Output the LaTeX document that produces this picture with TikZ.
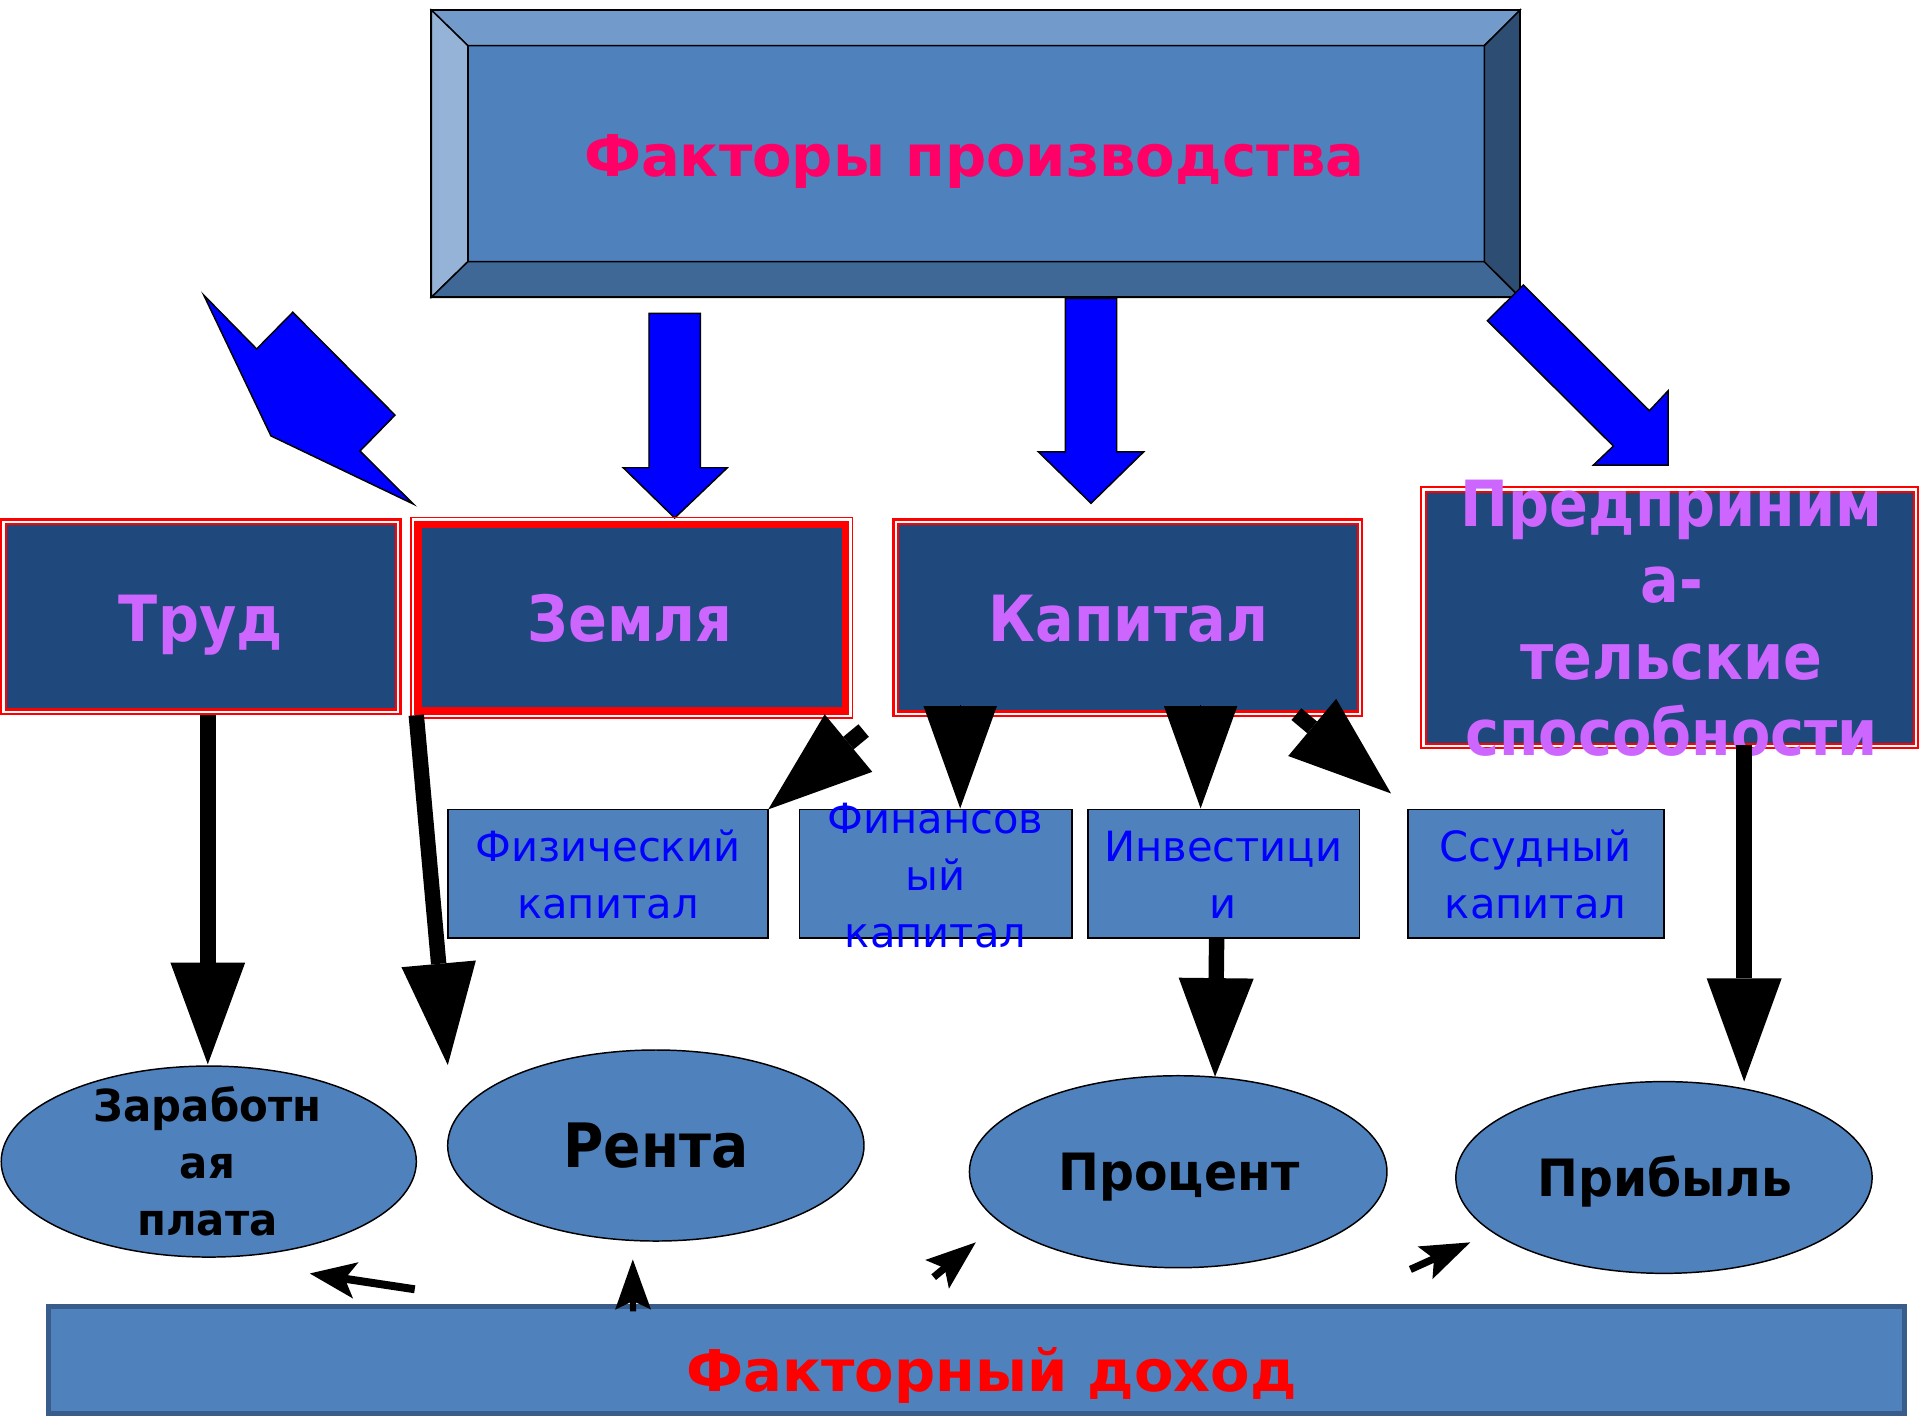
\documentclass[tikz,border=0pt]{standalone}
\usepackage{fontspec}
\setmainfont{DejaVu Sans}
\newfontfamily\narrowfont[FakeStretch=0.9]{DejaVu Sans}
\newfontfamily\midfont[FakeStretch=0.95]{DejaVu Sans}
\usetikzlibrary{arrows.meta,calc,shapes.geometric}
\definecolor{midblue}{HTML}{4F81BD}
\definecolor{navy}{HTML}{1F497D}
\definecolor{bevT}{HTML}{729ACA}
\definecolor{bevL}{HTML}{95B3D7}
\definecolor{bevB}{HTML}{3F6897}
\definecolor{bevR}{HTML}{2E4D72}
\definecolor{titlepink}{HTML}{FF0066}
\definecolor{lilac}{HTML}{CC66FF}
\definecolor{barborder}{HTML}{385D8A}
\tikzset{
  titlebox/.style={rectangle, fill=midblue, draw=black, line width=1.2pt, inner sep=0pt, outer sep=0pt},
  bevel/.style={draw=black, line width=1.2pt, line join=miter},
  factorbox/.style={rectangle, fill=navy, draw=red, double=white, double distance=1.8pt, line width=1.9pt, inner sep=0pt, outer sep=0pt},
  thickfactorbox/.style={rectangle, fill=navy, draw=red, line width=6.3pt, inner sep=0pt, outer sep=0pt},
  subbox/.style={rectangle, fill=midblue, draw=black, line width=1.3pt, inner sep=0pt, outer sep=0pt},
  incomeell/.style={ellipse, fill=midblue, draw=black, line width=1.2pt, inner sep=0pt, outer sep=0pt},
  barbox/.style={rectangle, fill=midblue, draw=barborder, line width=4pt, inner sep=0pt, outer sep=0pt},
  titletext/.style={text=titlepink, font=\bfseries\fontsize{47}{55}\selectfont, inner sep=0pt, anchor=base},
  factortext/.style={text=lilac, font=\narrowfont\bfseries\fontsize{52}{62.4}\selectfont, align=center, inner sep=0pt, anchor=base},
  subtext/.style={text=blue, font=\fontsize{34}{46.5}\selectfont, align=center, inner sep=0pt, anchor=base},
  incometext/.style={text=black, font=\midfont\bfseries\fontsize{42}{46.6}\selectfont, align=center, inner sep=0pt, anchor=base},
  bartext/.style={text=red, font=\bfseries\fontsize{47}{56}\selectfont, inner sep=0pt, anchor=base},
  bluearrow/.style={fill=blue, draw=black, line width=1.2pt, line join=miter},
  bigarrow/.style={draw=black, line width=12.6pt, -{Triangle[length=83pt,width=61pt,line width=0pt]}},
  headarrow/.style={draw=black, line width=1pt, -{Triangle[length=83.6pt,width=60pt,line width=0pt]}},
  smallarrow/.style={draw=black, line width=6.5pt, -{Stealth[length=40pt,width=30pt,inset=8pt,line width=0pt]}}
}
\begin{document}
\begin{tikzpicture}[x=1pt,y=-1pt]
\useasboundingbox (0,0) rectangle (1568,1158);
\fill[white] (0,0) rectangle (1568,1158);

% ---------- title box ----------
\node[titlebox, minimum width=830.1pt, minimum height=176.4pt] (fp) at (797.15,125.5) {};
\coordinate (fpo-nw) at ($(fp.north west)+(-29.8,-29.1)$);
\coordinate (fpo-se) at ($(fp.south east)+(29.2,29.1)$);
\coordinate (fpo-ne) at (fpo-se |- fpo-nw);
\coordinate (fpo-sw) at (fpo-nw |- fpo-se);
\filldraw[bevel, fill=bevT] (fpo-nw) -- (fpo-ne) -- (fp.north east) -- (fp.north west) -- cycle;
\filldraw[bevel, fill=bevL] (fpo-nw) -- (fp.north west) -- (fp.south west) -- (fpo-sw) -- cycle;
\filldraw[bevel, fill=bevB] (fpo-sw) -- (fp.south west) -- (fp.south east) -- (fpo-se) -- cycle;
\filldraw[bevel, fill=bevR] (fpo-ne) -- (fpo-se) -- (fp.south east) -- (fp.north east) -- cycle;
\draw[black, line width=1.6pt] (fpo-nw) rectangle (fpo-se);
\node[titletext] (fp-t) at (795.7,144.3) {Факторы производства};

% ---------- blue arrows ----------
\filldraw[bluearrow] (166.4,241) -- (209.6,285) -- (239.1,255) -- (322.6,339) -- (294,368.3) -- (337.5,411.6) -- (221.3,356) -- cycle;
\filldraw[bluearrow] (530,256) -- (572,256) -- (572,382) -- (594,382) -- (551,423) -- (509,382) -- (530,382) -- cycle;
\filldraw[bluearrow] (870,243.6) -- (912,243.6) -- (912,369) -- (934,369) -- (891,411) -- (848,369) -- (870,369) -- cycle;
\filldraw[bluearrow] (1244.1,232.8) -- (1347,335.4) -- (1362.3,319.1) -- (1362.3,379.8) -- (1301.3,379.8) -- (1317.6,364.3) -- (1214.7,261.9) -- cycle;

% ---------- factor boxes ----------
\node[factorbox, minimum width=322.4pt, minimum height=155.1pt] (trud) at (164,503.65) {};
\node[thickfactorbox, minimum width=349.1pt, minimum height=152.1pt] (zem) at (516,504.5) {};
\draw[red, line width=1.4pt] ($(zem.north west)+(-5.75,-5.75)$) rectangle ($(zem.south east)+(5.75,5.75)$);
\node[factorbox, minimum width=379pt, minimum height=156.9pt] (kap) at (921.1,504.55) {};
\node[factorbox, minimum width=402.2pt, minimum height=209.5pt] (pred) at (1363.6,504.45) {};

\node[factortext] (trud-t) at (164,524) {Труд};
\node[factortext] (zem-t) at (514.6,524) {Земля};
\node[factortext] (kap-t) at (921.5,524) {Капитал};
\node[factortext] (pred-t) at (1365.2,617.2) {Предприним\\а-\\тельские\\способности};

% ---------- capital sub-boxes ----------
\node[subbox, minimum width=261.4pt, minimum height=104.8pt] (fiz) at (496.7,713.4) {};
\node[subbox, minimum width=222.3pt, minimum height=104.8pt] (fin) at (764.15,713.4) {};
\node[subbox, minimum width=221.8pt, minimum height=104.8pt] (inv) at (999.3,713.4) {};
\node[subbox, minimum width=208.9pt, minimum height=104.8pt] (ssud) at (1254.25,713.4) {};
\node[subtext] (fiz-t) at (496.5,750) {Физический\\капитал};
\node[subtext] (fin-t) at (764,773.4) {Финансов\\ый\\капитал};
\node[subtext] (inv-t) at (999,750) {Инвестици\\и};
\node[subtext] (ssud-t) at (1254,750) {Ссудный\\капитал};

% ---------- income ellipses ----------
\node[incomeell, minimum width=339pt, minimum height=156pt] (zarp) at (170.5,948.6) {};
\node[incomeell, minimum width=340pt, minimum height=156pt] (renta) at (535.6,935.5) {};
\node[incomeell, minimum width=341pt, minimum height=156.8pt] (proc) at (962.2,956.9) {};
\node[incomeell, minimum width=340pt, minimum height=156.6pt] (prib) at (1358.9,961.6) {};
\node[incometext, font=\midfont\bfseries\fontsize{36}{46.6}\selectfont] (zarp-t) at (169.5,1009) {Заработн\\ая\\плата};
\node[incometext, font=\narrowfont\bfseries\fontsize{50}{60}\selectfont] (renta-t) at (535.6,953.8) {Рента};
\node[incometext] (proc-t) at (962.8,971.9) {Процент};
\node[incometext] (prib-t) at (1359.8,977.3) {Прибыль};

% ---------- factor income bar ----------
\node[barbox, minimum width=1515.7pt, minimum height=87pt] (fd) at (797.15,1110.5) {};
\node[bartext] (fd-t) at (809.8,1136.6) {Факторный доход};

% ---------- black arrows ----------
\draw[bigarrow] ($(trud.south -| zarp.north)+(-0.8,2.8)$) -- ($(zarp.north)+(-0.8,-1.4)$);
\coordinate (zemL) at ($(zem.south west)+(-1.5,3.5)$);
\coordinate (rentaTip) at ($(renta.north)+(-169.9,12.3)$);
\draw[bigarrow] (zemL) -- (rentaTip);
\coordinate (cTail) at (705.3,596.6);
\draw[bigarrow, line width=13.3pt, -{Triangle[length=85pt,width=61pt,line width=0pt]}] (cTail) -- (fiz.north east);
\coordinate (dTip) at ($(fin.north)+(20,-0.8)$);
\draw[headarrow] ($(dTip)+(0,-84.2)$) -- (dTip);
\coordinate (eTip) at ($(inv.north)+(-18.8,-0.8)$);
\draw[headarrow] ($(eTip)+(0,-84.2)$) -- (eTip);
\coordinate (fTail) at (1058.7,583.2);
\coordinate (fTip) at ($(ssud.north west)+(-13.8,-13)$);
\draw[bigarrow, line width=12.5pt, -{Triangle[length=84pt,width=61pt,line width=0pt]}] (fTail) -- (fTip);
\coordinate (gTip) at ($(proc.north)+(30.1,0.8)$);
\draw[bigarrow, -{Triangle[length=80.5pt,width=61.3pt,line width=0pt]}] ($(inv.south)+(-5.7,0)$) -- (gTip);
\coordinate (hTip) at ($(prib.north)+(65.5,0)$);
\draw[bigarrow, -{Triangle[length=84.4pt,width=61.3pt,line width=0pt]}] ($(hTip |- pred.south)+(0,-0.5)$) -- (hTip);

% ---------- small arrows from the bar ----------
\coordinate (iTail) at (338.7,1052.9);
\coordinate (iTip) at (253,1040);
\draw[smallarrow, -{Stealth[length=38pt,width=30pt,inset=9pt,line width=0pt]}] (iTail) -- (iTip);
\coordinate (jTail) at (517,1071);
\coordinate (jTip) at (516.8,1028.5);
\draw[smallarrow, line width=5pt, -{Stealth[length=41pt,width=29.3pt,inset=7pt,line width=0pt]}] (jTail) -- (jTip);
\coordinate (kTail) at (762.5,1043);
\coordinate (kTip) at (796.9,1014.6);
\draw[smallarrow, line width=6pt, -{Stealth[length=41pt,width=30.4pt,inset=8pt,line width=0pt]}] (kTail) -- (kTip);
\coordinate (lTail) at (1151.8,1036.7);
\coordinate (lTip) at (1200.7,1014.6);
\draw[smallarrow, line width=6pt, -{Stealth[length=40.5pt,width=29.3pt,inset=8pt,line width=0pt]}] (lTail) -- (lTip);
\end{tikzpicture}
\end{document}
